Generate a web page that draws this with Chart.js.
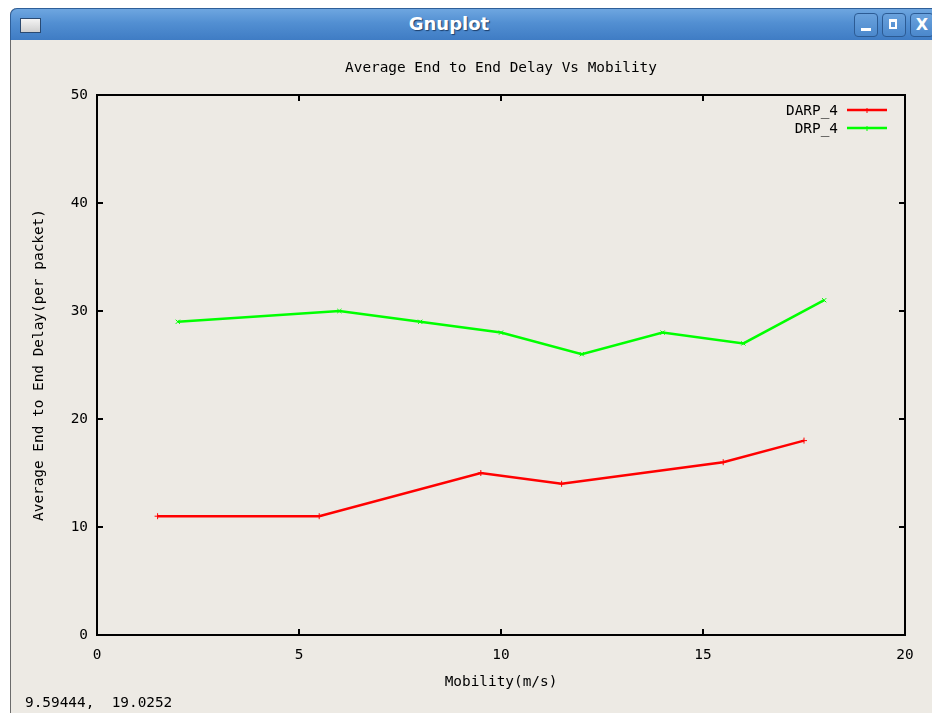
<!DOCTYPE html>
<html>
<head>
<meta charset="utf-8">
<title>Gnuplot</title>
<script src="https://cdn.jsdelivr.net/npm/chart.js@4/dist/chart.umd.min.js"></script>
<style>
  html, body { margin: 0; padding: 0; width: 932px; height: 713px; overflow: hidden; background: #ffffff; }
  #win { position: absolute; left: 10px; top: 8px; width: 960px; height: 740px; background: #EDEAE4;
         border-left: 1px solid #6b6b6b; border-radius: 7px 0 0 0; }
  #bar { position: absolute; left: 10px; top: 8px; width: 960px; height: 32px; border-radius: 7px 7px 0 0;
         background: linear-gradient(#6ea6e0 0%, #528fd2 45%, #3f7cc4 100%);
         border-top: 1px solid #2f5f99; border-left: 1px solid #2f5f99; box-sizing: border-box; }
  #bar .icon { position: absolute; left: 9px; top: 9px; width: 19px; height: 13px; border: 1px solid #2a4a72;
               background: linear-gradient(#f4f4f4, #cfcfcf); }
  #bar .caption { position: absolute; left: 0; width: 876px; top: 4px; text-align: center; color: #ffffff;
                  font: bold 18px "DejaVu Sans", sans-serif; text-shadow: 1px 1px 1px #1d3f6b; }
  .btn { position: absolute; top: 4px; width: 24px; height: 24px; box-sizing: border-box; border-radius: 4px;
         border: 1px solid #2c5b94; background: linear-gradient(#6aa2dd, #4b88cc); color: #fff; }
  #bmin { left: 843px; } #bmax { left: 871px; } #bclose { left: 899px; }
  #bmin::after { content: ""; position: absolute; left: 6px; bottom: 5px; width: 10px; height: 3px; background: #fff; }
  #bmax::after { content: ""; position: absolute; left: 6px; top: 5px; width: 8px; height: 10px; border: 2px solid #fff; border-top-width: 3px; box-sizing: border-box; }
  #bclose { font: bold 16px "DejaVu Sans", sans-serif; text-align: center; line-height: 22px; }
  #chart { position: absolute; left: 0; top: 0; width: 932px; height: 713px; }
  #status { position: absolute; left: 25px; top: 694px; font: 14.4px "DejaVu Sans Mono", monospace; color: #000; white-space: pre; }
</style>
</head>
<body>
<div id="win"></div>
<div id="bar">
  <div class="icon"></div>
  <div class="caption">Gnuplot</div>
  <div class="btn" id="bmin"></div>
  <div class="btn" id="bmax"></div>
  <div class="btn" id="bclose">X</div>
</div>
<canvas id="chart" width="932" height="713"></canvas>
<div id="status">9.59444,  19.0252</div>

<script>
// Mobility (m/s) and average end-to-end delay (per packet) for each protocol
const darpMobility = [1.5, 5.5, 9.5, 11.5, 15.5, 17.5];
const darpDelay    = [11, 11, 15, 14, 16, 18];
const drpMobility  = [2, 6, 8, 10, 12, 14, 16, 18];
const drpDelay     = [29, 30, 29, 28, 26, 28, 27, 31];

const seriesLabels = ['DARP_4', 'DRP_4'];
const chartTitle = 'Average End to End Delay Vs Mobility';
const xTitle = 'Mobility(m/s)';
const yTitle = 'Average End to End Delay(per packet)';

const monoFont = { family: '"DejaVu Sans Mono", monospace', size: 14.4, weight: 'normal' };

function toPoints(xs, ys) {
  return xs.map((x, i) => ({ x: x, y: ys[i] }));
}

// Box border with inward tick marks mirrored on all four sides
const frame = {
  id: 'frame',
  afterDatasetsDraw(chart) {
    const { ctx, chartArea: a, scales } = chart;
    ctx.save();
    ctx.strokeStyle = '#000';
    ctx.lineWidth = 2;
    ctx.strokeRect(a.left, a.top, a.right - a.left, a.bottom - a.top);
    const len = 6;
    ctx.beginPath();
    scales.x.ticks.forEach(t => {
      const px = Math.round(scales.x.getPixelForValue(t.value));
      ctx.moveTo(px, a.bottom); ctx.lineTo(px, a.bottom - len);
      ctx.moveTo(px, a.top); ctx.lineTo(px, a.top + len);
    });
    scales.y.ticks.forEach(t => {
      const py = Math.round(scales.y.getPixelForValue(t.value));
      ctx.moveTo(a.left, py); ctx.lineTo(a.left + len, py);
      ctx.moveTo(a.right, py); ctx.lineTo(a.right - len, py);
    });
    ctx.stroke();
    ctx.restore();
  }
};

// Key in the upper-right corner: label text followed by a line sample
const keyBox = {
  id: 'keyBox',
  afterDatasetsDraw(chart) {
    const { ctx, chartArea: a } = chart;
    ctx.save();
    ctx.font = '14.4px "DejaVu Sans Mono", monospace';
    ctx.textAlign = 'right';
    ctx.textBaseline = 'middle';
    chart.data.datasets.forEach((ds, i) => {
      const y = Math.round(a.top + 15 + i * 18);
      const x2 = a.right - 18, x1 = x2 - 40;
      ctx.fillStyle = '#000';
      ctx.fillText(ds.label, x1 - 9, y + 1);
      ctx.strokeStyle = ds.borderColor;
      ctx.lineWidth = 2.5;
      ctx.beginPath();
      ctx.moveTo(x1, y); ctx.lineTo(x2, y);
      ctx.stroke();
      ctx.lineWidth = 1;
      ctx.beginPath();
      const mx = (x1 + x2) / 2;
      ctx.moveTo(mx, y - 2); ctx.lineTo(mx, y + 3);
      ctx.stroke();
    });
    ctx.restore();
  }
};

new Chart(document.getElementById('chart'), {
  type: 'line',
  data: {
    datasets: [
      {
        label: seriesLabels[0],
        data: toPoints(darpMobility, darpDelay),
        borderColor: '#ff0000',
        backgroundColor: '#ff0000',
        borderWidth: 2.5,
        pointStyle: 'cross',
        pointRadius: 3,
        pointBorderWidth: 1,
        tension: 0,
        fill: false
      },
      {
        label: seriesLabels[1],
        data: toPoints(drpMobility, drpDelay),
        borderColor: '#00ff00',
        backgroundColor: '#00ff00',
        borderWidth: 2.5,
        pointStyle: 'crossRot',
        pointRadius: 3,
        pointBorderWidth: 1,
        tension: 0,
        fill: false
      }
    ]
  },
  options: {
    responsive: false,
    animation: false,
    events: [],
    layout: { padding: { top: 40, left: 0, right: 27, bottom: 0 } },
    plugins: {
      legend: { display: false },
      title: { display: false },
      tooltip: { enabled: false }
    },
    scales: {
      x: {
        type: 'linear', position: 'bottom', min: 0, max: 20,
        ticks: { stepSize: 5, color: '#000', font: monoFont, padding: 12, maxRotation: 0 },
        grid: { display: false, drawTicks: false },
        border: { display: false },
        title: { display: true, text: xTitle, color: '#000', font: monoFont, padding: { top: 0, bottom: 22 } },
        afterFit: s => { s.height = 78; }
      },
      top: {
        type: 'linear', position: 'top', min: 0, max: 20,
        ticks: { display: false },
        grid: { display: false, drawTicks: false },
        border: { display: false },
        title: { display: true, text: chartTitle, color: '#000', font: monoFont, padding: { top: 20, bottom: 0 } },
        afterFit: s => { s.height = 55; }
      },
      y: {
        type: 'linear', position: 'left', min: 0, max: 50,
        ticks: { stepSize: 10, color: '#000', font: monoFont, padding: 9 },
        grid: { display: false, drawTicks: false },
        border: { display: false },
        title: { display: true, text: yTitle, color: '#000', font: monoFont, padding: { top: 31, bottom: 0 } },
        afterFit: s => { s.width = 97; }
      }
    }
  },
  plugins: [frame, keyBox]
});
</script>
</body>
</html>
